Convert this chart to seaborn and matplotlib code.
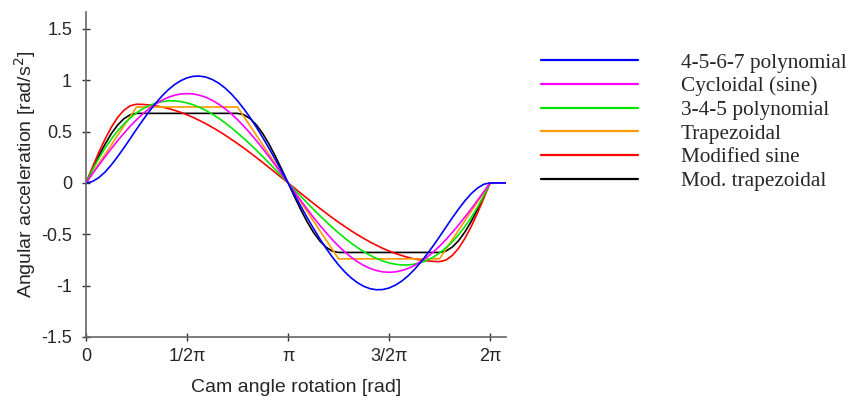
import pandas as pd
import matplotlib
matplotlib.use('Agg')
import matplotlib.pyplot as plt
import seaborn as sns
from matplotlib.lines import Line2D

# cam angle [rad], steps of pi/32, plus the dwell after 2pi
angle = [0.000, 0.098, 0.196, 0.295, 0.393, 0.491, 0.589, 0.687, 0.785,
         0.884, 0.982, 1.080, 1.178, 1.276, 1.374, 1.473, 1.571,
         1.669, 1.767, 1.865, 1.963, 2.062, 2.160, 2.258, 2.356,
         2.454, 2.553, 2.651, 2.749, 2.847, 2.945, 3.043, 3.142,
         3.240, 3.338, 3.436, 3.534, 3.632, 3.731, 3.829, 3.927,
         4.025, 4.123, 4.222, 4.320, 4.418, 4.516, 4.614, 4.712,
         4.811, 4.909, 5.007, 5.105, 5.203, 5.301, 5.400, 5.498,
         5.596, 5.694, 5.792, 5.890, 5.989, 6.087, 6.185, 6.283, 6.530]

poly_4567 = [0, 0.013, 0.050, 0.105, 0.175, 0.255, 0.341, 0.431, 0.522,
             0.611, 0.695, 0.773, 0.844, 0.905, 0.956, 0.995, 1.023,
             1.038, 1.040, 1.030, 1.007, 0.972, 0.925, 0.867, 0.799,
             0.721, 0.635, 0.541, 0.440, 0.335, 0.225, 0.113, 0,
             -0.113, -0.225, -0.335, -0.440, -0.541, -0.635, -0.721, -0.799,
             -0.867, -0.925, -0.972, -1.007, -1.030, -1.040, -1.038, -1.023,
             -0.995, -0.956, -0.905, -0.844, -0.773, -0.695, -0.611, -0.522,
             -0.431, -0.341, -0.255, -0.175, -0.105, -0.050, -0.013, 0, 0]
cycloidal = [0, 0.085, 0.170, 0.253, 0.333, 0.410, 0.483, 0.552, 0.615,
             0.673, 0.723, 0.767, 0.804, 0.833, 0.853, 0.866, 0.870,
             0.866, 0.853, 0.833, 0.804, 0.767, 0.723, 0.673, 0.615,
             0.552, 0.483, 0.410, 0.333, 0.253, 0.170, 0.085, 0,
             -0.085, -0.170, -0.253, -0.333, -0.410, -0.483, -0.552, -0.615,
             -0.673, -0.723, -0.767, -0.804, -0.833, -0.853, -0.866, -0.870,
             -0.866, -0.853, -0.833, -0.804, -0.767, -0.723, -0.673, -0.615,
             -0.552, -0.483, -0.410, -0.333, -0.253, -0.170, -0.085, 0, 0]
poly_345 = [0, 0.124, 0.236, 0.337, 0.426, 0.505, 0.574, 0.632, 0.682,
            0.722, 0.753, 0.776, 0.791, 0.799, 0.799, 0.792, 0.779,
            0.760, 0.735, 0.705, 0.670, 0.630, 0.586, 0.538, 0.487,
            0.433, 0.376, 0.317, 0.256, 0.193, 0.129, 0.065, 0,
            -0.065, -0.129, -0.193, -0.256, -0.317, -0.376, -0.433, -0.487,
            -0.538, -0.586, -0.630, -0.670, -0.705, -0.735, -0.760, -0.779,
            -0.792, -0.799, -0.799, -0.791, -0.776, -0.753, -0.722, -0.682,
            -0.632, -0.574, -0.505, -0.426, -0.337, -0.236, -0.124, 0, 0]
trapezoidal = [0, 0.092, 0.185, 0.277, 0.369, 0.462, 0.554, 0.646, 0.739,
               0.739, 0.739, 0.739, 0.739, 0.739, 0.739, 0.739, 0.739,
               0.739, 0.739, 0.739, 0.739, 0.739, 0.739, 0.739, 0.739,
               0.646, 0.554, 0.462, 0.369, 0.277, 0.185, 0.092, 0,
               -0.092, -0.185, -0.277, -0.369, -0.462, -0.554, -0.646, -0.739,
               -0.739, -0.739, -0.739, -0.739, -0.739, -0.739, -0.739, -0.739,
               -0.739, -0.739, -0.739, -0.739, -0.739, -0.739, -0.739, -0.739,
               -0.646, -0.554, -0.462, -0.369, -0.277, -0.185, -0.092, 0, 0]
mod_sine = [0, 0.149, 0.293, 0.425, 0.541, 0.637, 0.707, 0.751, 0.766,
            0.764, 0.759, 0.751, 0.740, 0.725, 0.707, 0.687, 0.663,
            0.637, 0.607, 0.576, 0.541, 0.505, 0.466, 0.425, 0.383,
            0.339, 0.293, 0.246, 0.198, 0.149, 0.100, 0.050, 0,
            -0.050, -0.100, -0.149, -0.198, -0.246, -0.293, -0.339, -0.383,
            -0.425, -0.466, -0.505, -0.541, -0.576, -0.607, -0.637, -0.663,
            -0.687, -0.707, -0.725, -0.740, -0.751, -0.759, -0.764, -0.766,
            -0.751, -0.707, -0.637, -0.541, -0.425, -0.293, -0.149, 0, 0]
mod_trap = [0, 0.132, 0.259, 0.376, 0.479, 0.563, 0.625, 0.664, 0.677,
            0.677, 0.677, 0.677, 0.677, 0.677, 0.677, 0.677, 0.677,
            0.677, 0.677, 0.677, 0.677, 0.677, 0.677, 0.677, 0.677,
            0.664, 0.625, 0.563, 0.479, 0.376, 0.259, 0.132, 0,
            -0.132, -0.259, -0.376, -0.479, -0.563, -0.625, -0.664, -0.677,
            -0.677, -0.677, -0.677, -0.677, -0.677, -0.677, -0.677, -0.677,
            -0.677, -0.677, -0.677, -0.677, -0.677, -0.677, -0.677, -0.677,
            -0.664, -0.625, -0.563, -0.479, -0.376, -0.259, -0.132, 0, 0]

names = ['4-5-6-7 polynomial', 'Cycloidal (sine)', '3-4-5 polynomial',
         'Trapezoidal', 'Modified sine', 'Mod. trapezoidal']
series = [poly_4567, cycloidal, poly_345, trapezoidal, mod_sine, mod_trap]
colors = ['#0000ff', '#ff00ff', '#00e600', '#ff9900', '#ff0000', '#000000']

x_ticks = [0, 1.5708, 3.1416, 4.7124, 6.2832]
x_labels = ['0', '1/2π', 'π', '3/2π', '2π']
y_ticks = [-1.5, -1, -0.5, 0, 0.5, 1, 1.5]
y_labels = ['-1.5', '-1', '-0.5', '0', '0.5', '1', '1.5']

df = pd.concat([pd.DataFrame({'angle': angle, 'acc': s, 'law': n})
                for n, s in zip(names, series)], ignore_index=True)

sns.set_style('white')
plt.rcParams['font.family'] = ['Liberation Sans', 'DejaVu Sans']
plt.rcParams['axes.unicode_minus'] = False

fig = plt.figure(figsize=(8.54, 3.96), dpi=100)
ax = fig.add_axes([0.1007, 0.149, 0.4918, 0.821])

# blue ends up on top, as in the original
sns.lineplot(data=df, x='angle', y='acc', hue='law', hue_order=names[::-1],
             palette=dict(zip(names, colors)), estimator=None, linewidth=1.2,
             legend=False, ax=ax)

ax.set_xlim(0, 6.53)
ax.set_ylim(-1.5, 1.665)
ax.set_xticks(x_ticks)
ax.set_xticklabels(x_labels)
ax.set_yticks(y_ticks)
ax.set_yticklabels(y_labels)
ax.set_xlabel('Cam angle rotation [rad]', fontsize=14, labelpad=10)
ax.set_ylabel('Angular acceleration [rad/s$^2$]', fontsize=14, labelpad=2.4)

for side in ['top', 'right']:
    ax.spines[side].set_visible(False)
for side in ['left', 'bottom']:
    ax.spines[side].set_color('#666666')
    ax.spines[side].set_linewidth(1.2)
ax.tick_params(bottom=True, left=True, direction='inout', length=6, width=1,
               color='#333333', labelsize=13)
ax.tick_params(axis='x', pad=5)
ax.tick_params(axis='y', pad=7)

handles = [Line2D([], [], color=c, linewidth=1.6) for c in colors]
ax.legend(handles, names, loc='upper left', bbox_to_anchor=(0.634, 0.867),
          bbox_transform=fig.transFigure, frameon=False,
          prop={'family': 'Liberation Serif', 'size': 15.3},
          handlelength=4.55, handletextpad=2.0, labelspacing=0.18,
          borderpad=0, borderaxespad=0)

fig.savefig('out.png', dpi=100)
